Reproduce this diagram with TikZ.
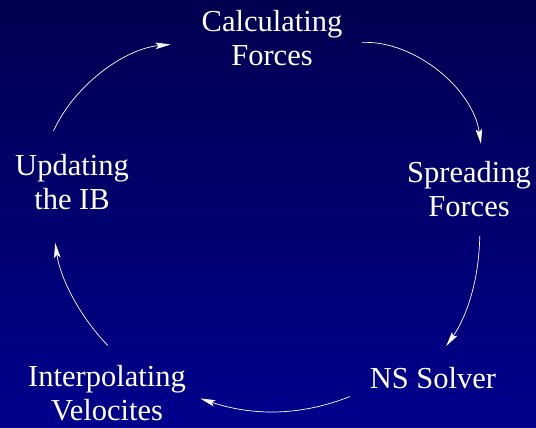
\documentclass[tikz,border=0pt]{standalone}
\usepackage{fontspec}
\setmainfont{Liberation Serif}
\usetikzlibrary{arrows.meta}

\definecolor{navytop}{RGB}{0,0,80}
\definecolor{navybottom}{RGB}{0,0,140}

\begin{document}
\begin{tikzpicture}[x=1bp,y=-1bp,
    stage/.style={text=white, align=center, inner sep=2bp,
      font=\fontsize{30.5bp}{34.5bp}\selectfont},
    flow/.style={white, line width=0.7bp,
      -{Stealth[length=15bp,width=6.5bp,inset=3bp]}}]
    \shade [top color=navytop, bottom color=navybottom] (0,0) rectangle (536,427);
    \useasboundingbox (0,0) rectangle (536,427);
    \path (272,38)  node [stage] (calc)   {Calculating\\Forces}
          (469,189) node [stage] (spread) {Spreading\\Forces}
          (433,378) node [stage] (ns)     {NS Solver}
          (107,393) node [stage] (interp) {Interpolating\\Velocites}
          (72,182)  node [stage] (update) {Updating\\the IB};
    \draw [flow, shorten <=18bp, shorten >=15bp] (calc.-4) to [bend left=42] (spread.65);
    \draw [flow, shorten <=17bp, shorten >=23bp] (spread.-70) to [bend left=17] (ns.90);
    \draw [flow, shorten <=19bp, shorten >=13bp] (ns.190) to [bend left=20] (interp.-1);
    \draw [flow, shorten <=24bp, shorten >=31bp] (interp.60) to [bend left=18] (update.-125);
    \draw [flow, shorten <=23bp, shorten >=29bp] (update.133) to [bend left=30] (calc.183);
  \end{tikzpicture}
\end{document}
